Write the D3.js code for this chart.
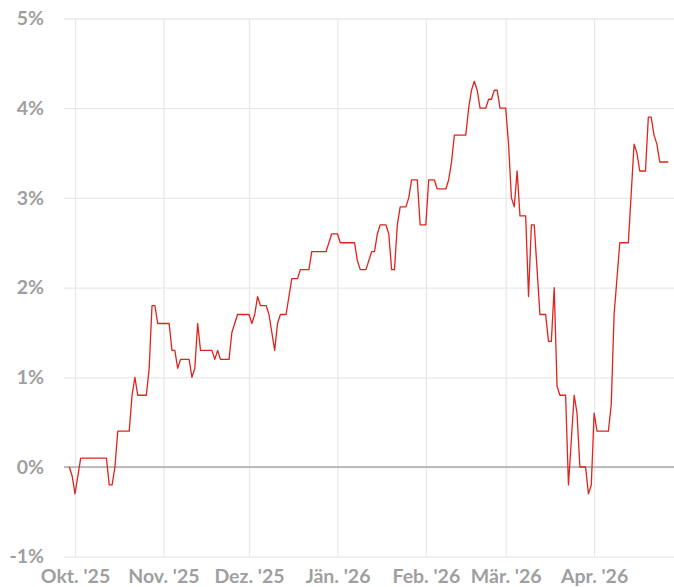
<!DOCTYPE html>
<html>
<head>
<meta charset="utf-8">
<script src="https://cdn.jsdelivr.net/npm/d3@7"></script>
<style>
  html, body { margin: 0; padding: 0; background: #fff; }
  svg { display: block; }
  .tick text { font-family: Lato, "Open Sans", sans-serif; font-weight: 700; fill: #9f9f9f; }
</style>
</head>
<body>
<svg id="chart" width="674" height="587"></svg>
<script>
// Daily change in percent, one entry per turning point of the line
const dates = [
  "2025-09-29","2025-09-30","2025-10-01","2025-10-03","2025-10-12","2025-10-13","2025-10-14","2025-10-15",
  "2025-10-16","2025-10-20","2025-10-21","2025-10-22","2025-10-23","2025-10-26","2025-10-27","2025-10-28",
  "2025-10-29","2025-10-30","2025-11-03","2025-11-04","2025-11-05","2025-11-06","2025-11-07","2025-11-10",
  "2025-11-11","2025-11-12","2025-11-13","2025-11-14","2025-11-18","2025-11-19","2025-11-20","2025-11-21",
  "2025-11-24","2025-11-25","2025-11-27","2025-12-01","2025-12-02","2025-12-03","2025-12-04","2025-12-05",
  "2025-12-07","2025-12-08","2025-12-10","2025-12-11","2025-12-12","2025-12-14","2025-12-16","2025-12-18",
  "2025-12-19","2025-12-22","2025-12-23","2025-12-28","2025-12-30","2026-01-01","2026-01-02","2026-01-07",
  "2026-01-08","2026-01-09","2026-01-11","2026-01-13","2026-01-14","2026-01-15","2026-01-16","2026-01-18",
  "2026-01-19","2026-01-20","2026-01-21","2026-01-22","2026-01-23","2026-01-25","2026-01-26","2026-01-27",
  "2026-01-29","2026-01-30","2026-02-01","2026-02-02","2026-02-04","2026-02-05","2026-02-08","2026-02-09",
  "2026-02-10","2026-02-11","2026-02-15","2026-02-16","2026-02-17","2026-02-18","2026-02-19","2026-02-20",
  "2026-02-22","2026-02-23","2026-02-24","2026-02-25","2026-02-26","2026-02-27","2026-03-01","2026-03-02",
  "2026-03-03","2026-03-04","2026-03-05","2026-03-06","2026-03-08","2026-03-09","2026-03-10","2026-03-11",
  "2026-03-13","2026-03-15","2026-03-16","2026-03-17","2026-03-18","2026-03-19","2026-03-20","2026-03-22",
  "2026-03-23","2026-03-25","2026-03-26","2026-03-27","2026-03-29","2026-03-30","2026-03-31","2026-04-01",
  "2026-04-02","2026-04-06","2026-04-07","2026-04-08","2026-04-09","2026-04-10","2026-04-13","2026-04-15",
  "2026-04-16","2026-04-17","2026-04-19","2026-04-20","2026-04-21","2026-04-22","2026-04-23","2026-04-24",
  "2026-04-27"
];
const values = [
  0.0, -0.1, -0.3, 0.1, 0.1, -0.2, -0.2, 0.0,
  0.4, 0.4, 0.8, 1.0, 0.8, 0.8, 1.1, 1.8,
  1.8, 1.6, 1.6, 1.3, 1.3, 1.1, 1.2, 1.2,
  1.0, 1.1, 1.6, 1.3, 1.3, 1.2, 1.3, 1.2,
  1.2, 1.5, 1.7, 1.7, 1.6, 1.7, 1.9, 1.8,
  1.8, 1.7, 1.3, 1.6, 1.7, 1.7, 2.1, 2.1,
  2.2, 2.2, 2.4, 2.4, 2.6, 2.6, 2.5, 2.5,
  2.3, 2.2, 2.2, 2.4, 2.4, 2.6, 2.7, 2.7,
  2.6, 2.2, 2.2, 2.7, 2.9, 2.9, 3.0, 3.2,
  3.2, 2.7, 2.7, 3.2, 3.2, 3.1, 3.1, 3.2,
  3.4, 3.7, 3.7, 4.0, 4.2, 4.3, 4.2, 4.0,
  4.0, 4.1, 4.1, 4.2, 4.2, 4.0, 4.0, 3.6,
  3.0, 2.9, 3.3, 2.8, 2.8, 1.9, 2.7, 2.7,
  1.7, 1.7, 1.4, 1.4, 2.0, 0.9, 0.8, 0.8,
  -0.2, 0.8, 0.6, 0.0, 0.0, -0.3, -0.2, 0.6,
  0.4, 0.4, 0.7, 1.7, 2.1, 2.5, 2.5, 3.6,
  3.5, 3.3, 3.3, 3.9, 3.9, 3.7, 3.6, 3.4,
  3.4
];

// Axis ticks
const monthTicks = ["2025-10-01","2025-11-01","2025-12-01","2026-01-01","2026-02-01","2026-03-01","2026-04-01"];
const monthLabels = ["Okt. '25","Nov. '25","Dez. '25","Jän. '26","Feb. '26","Mär. '26","Apr. '26"];
const yTicks = [-1, 0, 1, 2, 3, 4, 5];

const W = 674, H = 587;
const plot = { left: 64, right: 674, top: 18.5, bottom: 556.7 };

const parse = d3.utcParse("%Y-%m-%d");
const data = dates.map((d, i) => ({ date: parse(d), value: values[i] }));

// Pad the time domain by a couple of days on each side of the series
const DAY = 864e5;
const ext = d3.extent(data, d => d.date);
const x = d3.scaleUtc()
  .domain([new Date(+ext[0] - 1.86 * DAY), new Date(+ext[1] + 2.0 * DAY)])
  .range([plot.left, plot.right]);
const y = d3.scaleLinear().domain([-1, 5]).range([plot.bottom, plot.top]);

const svg = d3.select("#chart");

// Horizontal grid + y labels
const yAxis = svg.append("g")
  .attr("transform", `translate(${plot.left},0)`)
  .call(d3.axisLeft(y)
    .tickValues(yTicks)
    .tickSize(-(plot.right - plot.left))
    .tickPadding(20)
    .tickFormat(d => d + "%"));
yAxis.select(".domain").remove();
yAxis.selectAll(".tick line").attr("stroke", "#e8e8e8").attr("stroke-width", 1.3);
yAxis.selectAll(".tick text").style("font-size", "19.5px");

// Vertical grid + month labels
const tickDates = monthTicks.map(parse);
const xAxis = svg.append("g")
  .attr("transform", `translate(0,${plot.bottom})`)
  .call(d3.axisBottom(x)
    .tickValues(tickDates)
    .tickSize(-(plot.bottom - plot.top))
    .tickPadding(12)
    .tickFormat((d, i) => monthLabels[i]));
xAxis.select(".domain").remove();
xAxis.selectAll(".tick line").attr("stroke", "#e8e8e8").attr("stroke-width", 1.3);
xAxis.selectAll(".tick text").style("font-size", "19.5px");

// Zero baseline
svg.append("line")
  .attr("x1", plot.left).attr("x2", plot.right)
  .attr("y1", y(0)).attr("y2", y(0))
  .attr("stroke", "#ababab").attr("stroke-width", 1.6);

// Series line
const line = d3.line()
  .x(d => x(d.date))
  .y(d => y(d.value));

svg.append("path")
  .datum(data)
  .attr("fill", "none")
  .attr("stroke", "#e0231c")
  .attr("stroke-width", 1.3)
  .attr("stroke-linejoin", "round")
  .attr("d", line);
</script>
</body>
</html>
